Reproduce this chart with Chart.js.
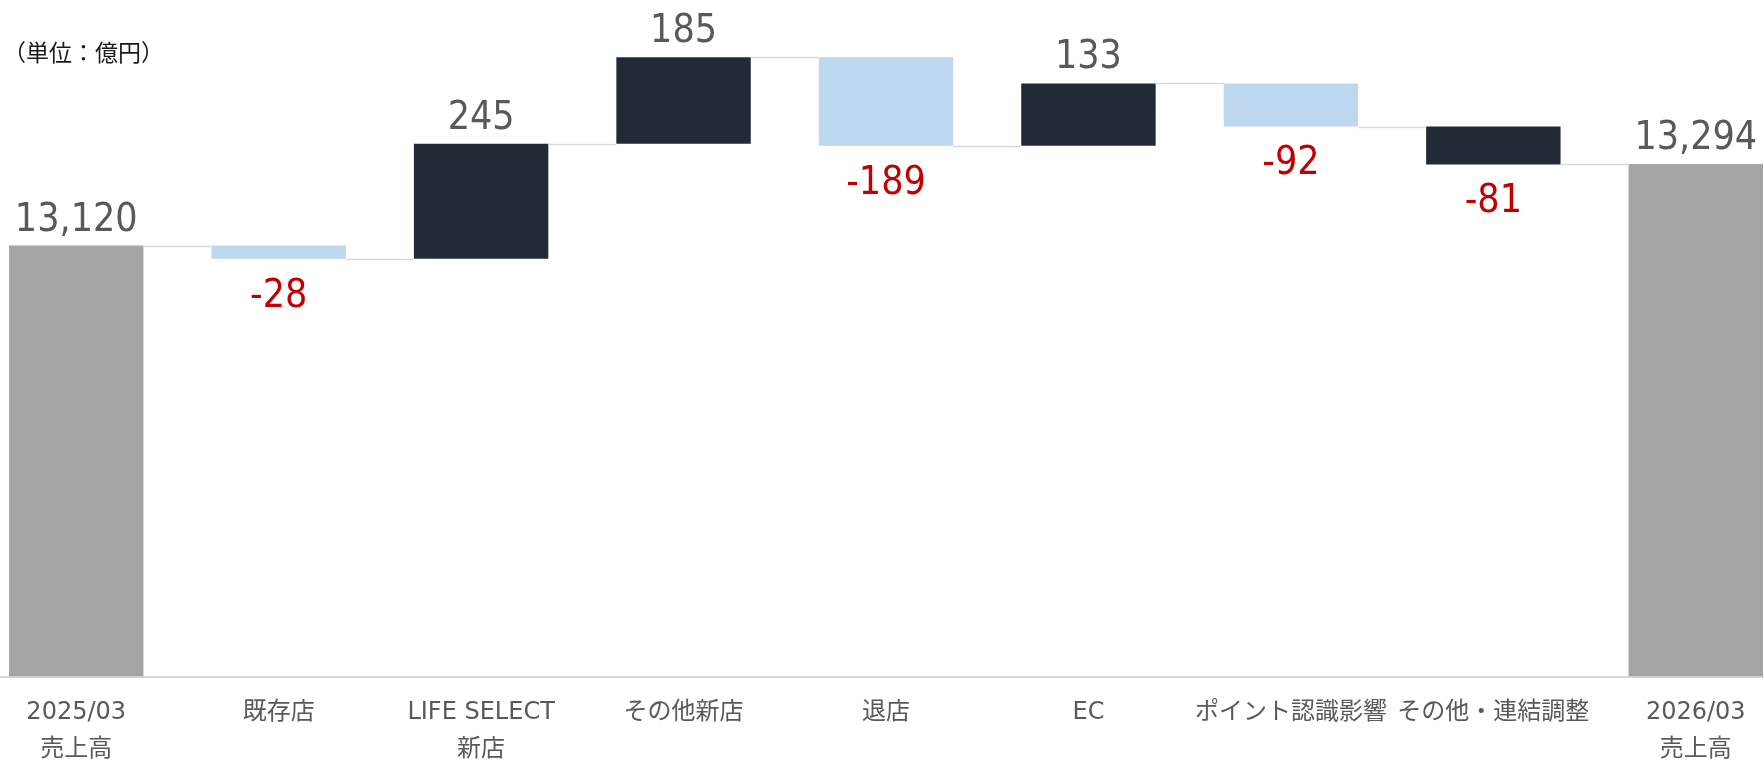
<!DOCTYPE html>
<html><head><meta charset="utf-8">
<script src="https://cdn.jsdelivr.net/npm/chart.js@4.4.1/dist/chart.umd.min.js"></script>
<style>
html,body{margin:0;padding:0;width:1764px;height:762px;overflow:hidden;background:#fff;}
#wrap{position:absolute;left:-25px;top:0;width:1822px;height:786px;}
#unit{position:absolute;left:3px;top:40px;font-family:"Noto Sans CJK JP";font-size:23px;line-height:23px;color:#1a1a1a;white-space:nowrap;}
</style></head><body>
<div id="wrap"><canvas id="c" width="1822" height="786"></canvas></div>
<div id="unit">（単位：億円）</div>
<script>
const categories = [['2025/03','売上高'], '既存店', ['LIFE SELECT','新店'], 'その他新店', '退店', 'EC', 'ポイント認識影響', 'その他・連結調整', ['2026/03','売上高']];
const values = [13120, -28, 245, 185, -189, 133, -92, -81, 13294];
const isTotal = [true, false, false, false, false, false, false, false, true];
const barColors = ['#A5A5A5','#BDD7EE','#222A35','#222A35','#BDD7EE','#222A35','#BDD7EE','#222A35','#A5A5A5'];
const Y_MIN = 12200, Y_MAX = 13644;

let level = 0;
const ranges = values.map((v, i) => {
  if (isTotal[i]) { level = v; return [Y_MIN, v]; }
  const s = level; level += v; return [s, level];
});

const fmt = v => (Math.abs(v) >= 1000 ? v.toLocaleString('en-US') : String(v));

const waterfallPlugin = {
  id: 'waterfall',
  afterDatasetsDraw(chart) {
    const ctx = chart.ctx;
    const meta = chart.getDatasetMeta(0);
    const ys = chart.scales.y;
    ctx.save();
    ctx.strokeStyle = '#D9D9D9';
    ctx.lineWidth = 1.5;
    for (let i = 0; i < meta.data.length - 1; i++) {
      const a = meta.data[i], b = meta.data[i + 1];
      const py = Math.round(ys.getPixelForValue(ranges[i][1])) + 0.5;
      ctx.beginPath();
      ctx.moveTo(a.x + a.width / 2, py);
      ctx.lineTo(b.x - b.width / 2, py);
      ctx.stroke();
    }
    const fs = 39;
    ctx.font = fs + 'px "DejaVu Sans Condensed", "DejaVu Sans"';
    ctx.textAlign = 'center';
    ctx.textBaseline = 'alphabetic';
    meta.data.forEach((el, i) => {
      const v = values[i];
      const top = Math.min(el.y, el.base), bottom = Math.max(el.y, el.base);
      if (v >= 0) {
        ctx.fillStyle = '#595959';
        ctx.fillText(fmt(v), el.x, top - 15);
      } else {
        ctx.fillStyle = '#C00000';
        ctx.fillText(fmt(v), el.x, bottom + 19.5 + fs * 0.729);
      }
    });
    ctx.restore();
  }
};

new Chart(document.getElementById('c'), {
  type: 'bar',
  data: {
    labels: categories,
    datasets: [{
      data: ranges,
      backgroundColor: barColors,
      borderWidth: 0,
      barPercentage: 0.664,
      categoryPercentage: 1.0
    }]
  },
  options: {
    responsive: false,
    devicePixelRatio: 1,
    animation: false,
    layout: { padding: 0 },
    plugins: { legend: { display: false }, tooltip: { enabled: false } },
    scales: {
      x: {
        offset: true,
        grid: { display: false, drawTicks: false },
        border: { display: true, color: '#D9D9D9', width: 2 },
        ticks: {
          autoSkip: false, maxRotation: 0, minRotation: 0,
          padding: 17.5,
          color: '#595959',
          font: { family: '"DejaVu Sans", "Noto Sans CJK JP"', size: 24, lineHeight: 1.55 }
        }
      },
      y: { display: false, min: Y_MIN, max: Y_MAX }
    }
  },
  plugins: [waterfallPlugin]
});
</script>
</body></html>
